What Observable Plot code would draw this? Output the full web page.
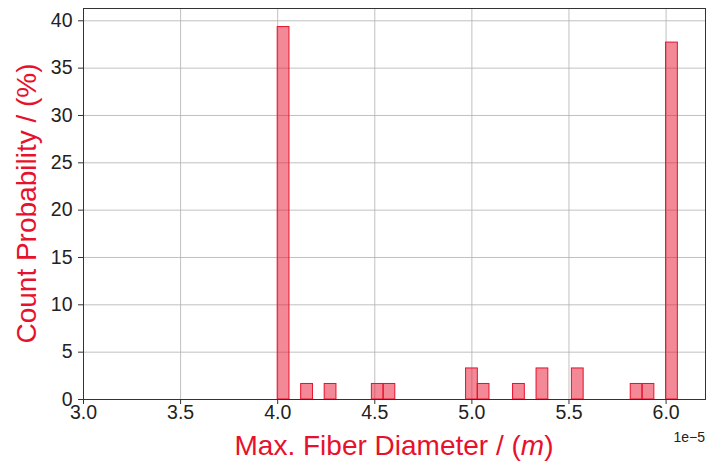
<!DOCTYPE html>
<html>
<head>
<meta charset="utf-8">
<script src="https://cdn.jsdelivr.net/npm/d3@7"></script>
<script src="https://cdn.jsdelivr.net/npm/@observablehq/plot@0.6"></script>
<style>
  html, body { margin: 0; padding: 0; background: #fff; }
  svg { font-family: "Liberation Sans", Arial, sans-serif; }
  g[aria-label$="tick label"] { font-size: 19.5px; fill: #222; }
</style>
</head>
<body>
<div id="chart"></div>
<script>
// Bin left edges (in units of 1e-5 m) and count probability (%)
const binStarts = [4.000, 4.121, 4.242, 4.485, 4.545, 4.970, 5.030, 5.212, 5.333, 5.515, 5.818, 5.879, 6.000];
const percents  = [39.34, 1.64, 1.64, 1.64, 1.64, 3.28, 1.64, 1.64, 3.28, 3.28, 1.64, 1.64, 37.70];
const binWidth = 0.0606;
const histStart = 3.0;
const histEnd = 6.06;
const xTicks = [3.0, 3.5, 4.0, 4.5, 5.0, 5.5, 6.0];
const yTicks = [0, 5, 10, 15, 20, 25, 30, 35, 40];
const xTitle = "Max. Fiber Diameter / (";
const xTitleVar = "m";
const yTitle = "Count Probability / (%)";
const offsetText = "1e\u22125";

const bins = binStarts.map((s, i) => ({x1: s, x2: s + binWidth, y: percents[i]}));

const red = "#e8112d";

const plot = Plot.plot({
  width: 717,
  height: 463,
  marginLeft: 83,
  marginRight: 12,
  marginTop: 8,
  marginBottom: 64,
  style: {fontFamily: "Liberation Sans, Arial, sans-serif", color: "#222"},
  x: {domain: [3.0, 6.203], ticks: xTicks},
  y: {domain: [0, 41.3], ticks: yTicks},
  marks: [
    Plot.gridX(xTicks, {stroke: "#b0b0b0", strokeOpacity: 1, strokeWidth: 0.8}),
    Plot.gridY(yTicks, {stroke: "#b0b0b0", strokeOpacity: 1, strokeWidth: 0.8}),
    Plot.rectY(bins, {x1: "x1", x2: "x2", y: "y", fill: red, fillOpacity: 0.5, stroke: red, strokeWidth: 1, insetLeft: 0, insetRight: 0}),
    Plot.ruleY([0], {x1: histStart, x2: histEnd, stroke: red, strokeWidth: 1}),
    Plot.frame({stroke: "#333", strokeWidth: 1}),
    Plot.axisX(xTicks, {tickFormat: d3.format(".1f"), tickSize: 5, tickPadding: 1, label: null, stroke: "#333"}),
    Plot.axisY(yTicks, {tickFormat: d => d, tickSize: 5, tickPadding: 6, label: null, stroke: "#333"})
  ]
});

document.getElementById("chart").appendChild(plot);

const svg = d3.select(plot);
// X title with italic variable
const xt = svg.append("text")
  .attr("x", (83 + 705) / 2)
  .attr("y", 455)
  .attr("text-anchor", "middle")
  .attr("fill", red)
  .attr("font-size", 28);
xt.append("tspan").text(xTitle);
xt.append("tspan").attr("font-style", "italic").text(xTitleVar);
xt.append("tspan").text(")");

// Y title
svg.append("text")
  .attr("transform", `translate(36,${(8 + 399) / 2}) rotate(-90)`)
  .attr("text-anchor", "middle")
  .attr("fill", red)
  .attr("font-size", 28)
  .text(yTitle);

// Offset text
svg.append("text")
  .attr("x", 705)
  .attr("y", 442)
  .attr("text-anchor", "end")
  .attr("fill", "#222")
  .attr("font-size", 14)
  .text(offsetText);
</script>
</body>
</html>
